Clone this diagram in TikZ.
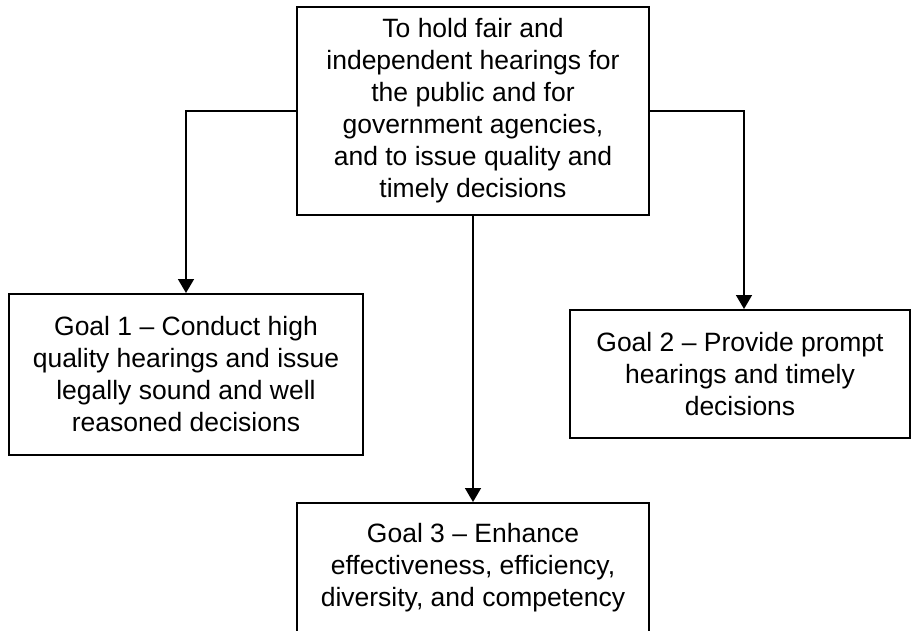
\documentclass[tikz,border=0pt]{standalone}
\usepackage{fontspec}
\setmainfont{Liberation Sans}
\usetikzlibrary{arrows.meta}
\begin{document}
\begin{tikzpicture}[x=1pt,y=-1pt,
  box/.style={draw, line width=2pt, align=center, inner sep=0pt,
    font=\fontsize{26.5}{32}\selectfont},
  conn/.style={line width=1.6pt, -{Triangle[width=16pt,length=14pt]}}]
\useasboundingbox (0,0) rectangle (912,631);
\node[box, minimum width=352pt, minimum height=208pt] (top) at (473,111)
  {To hold fair and\\independent hearings for\\the public and for\\government agencies,\\and to issue quality and\\timely decisions};
\node[box, minimum width=354pt, minimum height=161pt] (g1) at (186,374.5)
  {Goal 1 – Conduct high\\quality hearings and issue\\legally sound and well\\reasoned decisions};
\node[box, minimum width=340pt, minimum height=128pt] (g2) at (740,374)
  {Goal 2 – Provide prompt\\hearings and timely\\decisions};
\node[box, minimum width=352pt, minimum height=130pt] (g3) at (473,568)
  {Goal 3 – Enhance\\effectiveness, efficiency,\\diversity, and competency};
\draw[conn] (top.west) -| (g1.north);
\draw[conn] (top.east) -| ([xshift=4pt]g2.north);
\draw[conn] (top.south) -- (g3.north);
\end{tikzpicture}
\end{document}
